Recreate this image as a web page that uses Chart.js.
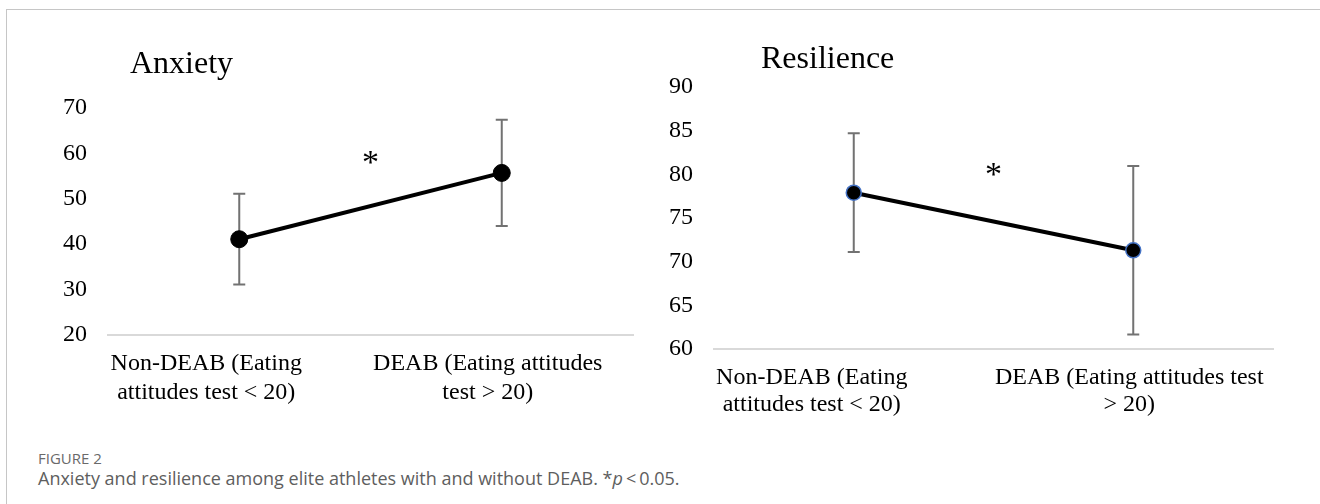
<!DOCTYPE html>
<html>
<head>
<meta charset="utf-8">
<script src="https://cdn.jsdelivr.net/npm/chart.js@4.4.1/dist/chart.umd.min.js"></script>
<style>
  html, body { margin: 0; padding: 0; background: #fff; }
  body { width: 1320px; height: 504px; position: relative; overflow: hidden; }
  .frame { position: absolute; left: 6px; top: 9px; width: 1400px; height: 600px;
           border-left: 1px solid #c6c6c6; border-top: 1px solid #c6c6c6; }
  .panel { position: absolute; top: 0; width: 660px; height: 420px; }
  #anxietyPanel { left: 0; }
  #resiliencePanel { left: 660px; }
  .fig-no { position: absolute; left: 38px; top: 448px; font: 15px "Open Sans", sans-serif;
            color: #6a6a6a; white-space: nowrap; }
  .fig-cap { position: absolute; left: 38px; top: 466px; font: 18px "Open Sans", sans-serif;
             color: #5e5e5e; white-space: nowrap; }
</style>
</head>
<body>
<div class="frame"></div>
<div class="panel" id="anxietyPanel"><canvas id="anxietyChart"></canvas></div>
<div class="panel" id="resiliencePanel"><canvas id="resilienceChart"></canvas></div>
<div class="fig-no">FIGURE 2</div>
<div class="fig-cap">Anxiety and resilience among elite athletes with and without DEAB. *<i>p</i>&thinsp;&lt;&thinsp;0.05.</div>

<script>
// 数据
const anxietyLabels = [['Non-DEAB (Eating', 'attitudes test < 20)'], ['DEAB (Eating attitudes', 'test > 20)']];
const resilienceLabels = [['Non-DEAB (Eating', 'attitudes test < 20)'], ['DEAB (Eating attitudes test', '> 20)']];
const anxietyMean = [41.1, 55.7];
const anxietySD = [10.0, 11.7];
const resilienceMean = [77.9, 71.3];
const resilienceSD = [6.8, 9.65];
const anxietyTicks = [20, 70, 10];     // min, max, step
const resilienceTicks = [60, 90, 5];
const anxietyStar = 59.2;
const resilienceStar = 80.6;

const serif = '"Liberation Serif", "Times New Roman", serif';

// 误差线
const errorBars = {
    id: 'errorBars',
    beforeDatasetsDraw(chart, args, opts) {
        const { ctx, scales: { x, y } } = chart;
        const cap = 6;
        chart.data.datasets[0].data.forEach((v, i) => {
            const px = x.getPixelForValue(i);
            const top = y.getPixelForValue(v + opts.sd[i]);
            const bot = y.getPixelForValue(v - opts.sd[i]);
            ctx.save();
            ctx.strokeStyle = '#727272';
            ctx.lineWidth = 2;
            ctx.beginPath();
            ctx.moveTo(px, top); ctx.lineTo(px, bot);
            ctx.moveTo(px - cap, top); ctx.lineTo(px + cap, top);
            ctx.moveTo(px - cap, bot); ctx.lineTo(px + cap, bot);
            ctx.stroke();
            ctx.restore();
        });
    }
};

// 标题、星号、分类标签
const panelText = {
    id: 'panelText',
    afterDatasetsDraw(chart, args, opts) {
        const { ctx, scales: { x, y } } = chart;
        ctx.save();
        ctx.fillStyle = '#000';
        ctx.font = '32px ' + serif;
        ctx.textAlign = 'left';
        ctx.textBaseline = 'middle';
        ctx.fillText(opts.title, opts.titleX, opts.titleY);

        ctx.font = '34px ' + serif;
        ctx.textAlign = 'center';
        ctx.textBaseline = 'alphabetic';
        ctx.fillText('*', x.getPixelForValue(0.5), y.getPixelForValue(opts.star) + 16);

        // Excel 式的分类标签（第一个贴着绘图区左边）
        ctx.font = '24px ' + serif;
        ctx.textBaseline = 'middle';
        chart.data.labels.forEach((lines, i) => {
            const px = x.getPixelForValue(i) + opts.shift[i];
            lines.forEach((t, j) => ctx.fillText(t, px, x.top + 29 + j * opts.lineGap));
        });
        ctx.restore();
    }
};

function makePanel(id, labels, mean, sd, ticks, star, o) {
    return new Chart(document.getElementById(id), {
        type: 'line',
        data: {
            labels: labels,
            datasets: [{
                data: mean,
                borderColor: '#000',
                borderWidth: 4,
                tension: 0,
                pointRadius: o.radius,
                pointHoverRadius: o.radius,
                pointBackgroundColor: '#000',
                pointBorderColor: o.ring,
                pointBorderWidth: o.ringWidth
            }]
        },
        options: {
            responsive: true,
            maintainAspectRatio: false,
            animation: false,
            events: [],
            layout: { padding: { top: o.top, right: o.right, left: 0, bottom: 0 } },
            plugins: {
                legend: { display: false },
                tooltip: { enabled: false },
                errorBars: { sd: sd },
                panelText: { title: o.title, titleX: o.titleX, titleY: o.titleY, star: star,
                             shift: o.shift, lineGap: o.lineGap }
            },
            scales: {
                x: {
                    offset: true,
                    grid: { display: false, drawTicks: false },
                    border: { display: true, color: '#d9d9d9', width: 2 },
                    ticks: { display: false },
                    afterFit: s => { s.height = o.xHeight; }
                },
                y: {
                    min: ticks[0], max: ticks[1],
                    grid: { display: false, drawTicks: false },
                    border: { display: false },
                    ticks: { stepSize: ticks[2], color: '#000', padding: 21,
                             font: { family: serif, size: 24 } },
                    afterFit: s => { s.width = o.yWidth; }
                }
            }
        },
        plugins: [errorBars, panelText]
    });
}

makePanel('anxietyChart', anxietyLabels, anxietyMean, anxietySD, anxietyTicks, anxietyStar, {
    title: 'Anxiety', titleX: 130, titleY: 65,
    top: 108, right: 27, xHeight: 85, yWidth: 108,
    radius: 8.5, ring: '#000', ringWidth: 1,
    shift: [-33, -14], lineGap: 29
});

makePanel('resilienceChart', resilienceLabels, resilienceMean, resilienceSD, resilienceTicks, resilienceStar, {
    title: 'Resilience', titleX: 101, titleY: 60,
    top: 87, right: 47, xHeight: 71, yWidth: 54,
    radius: 7.5, ring: '#4472c4', ringWidth: 1.5,
    shift: [-42, -4], lineGap: 27
});
</script>
</body>
</html>
